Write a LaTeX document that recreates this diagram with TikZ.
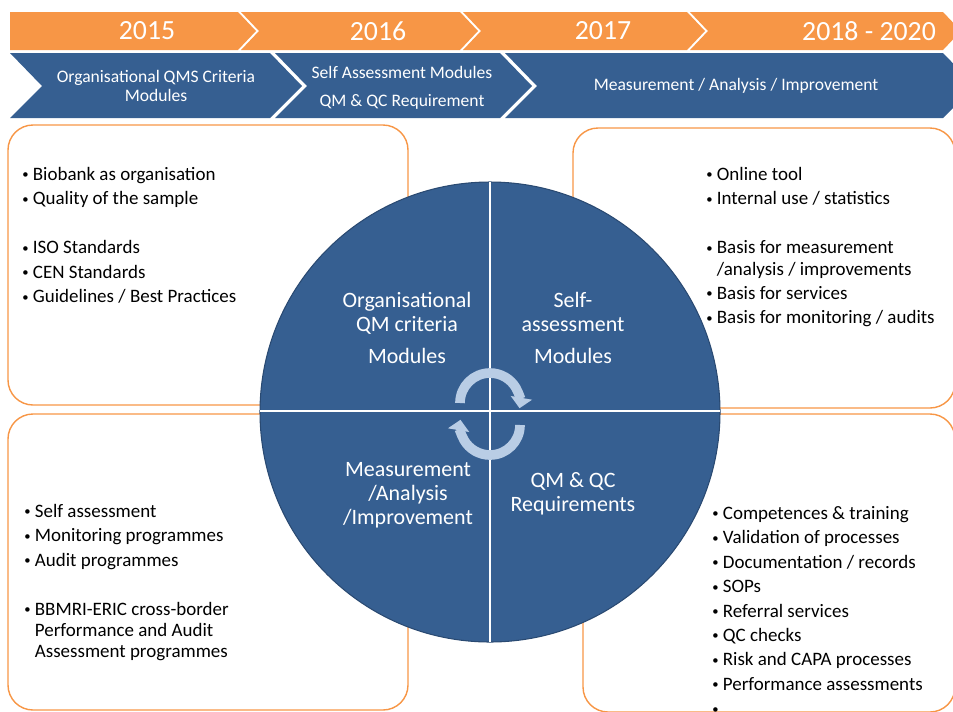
\documentclass[tikz,border=0pt]{standalone}
\usepackage{fontspec}
\setmainfont{Carlito}
\usepackage{xcolor}
\usetikzlibrary{positioning, arrows.meta}

\definecolor{qmorange}{RGB}{247,150,70}
\definecolor{qmblue}{RGB}{54,95,145}
\definecolor{qmdark}{RGB}{42,74,114}
\definecolor{qmarrow}{RGB}{185,205,229}

\newcommand{\bul}{\makebox[6pt][l]{\raisebox{0.9pt}{\fontsize{7.2}{7.2}\selectfont\textbullet}}}
\newcommand{\ind}{\hspace*{6pt}}

\tikzset{
  panel/.style={draw=qmorange, line width=0.8pt, rounded corners=0.5cm},
  yeartext/.style={text=white, font=\fontsize{15.8}{18}\selectfont},
  bandtext/.style={text=white, align=center, font=\fontsize{10}{11.3}\selectfont},
  quadtext/.style={text=white, align=center, font=\fontsize{12.5}{13.6}\selectfont},
  listtext/.style={align=left, anchor=north west, inner sep=0pt, font=\fontsize{10.8}{13.9}\selectfont},
  cycarrow/.style={draw=qmarrow, line width=5.5pt, -{Triangle[width=12pt,length=6pt]}}
}

\begin{document}
\begin{tikzpicture}[x=0.02cm, y=-0.02cm]
    \useasboundingbox (0,0) rectangle (953,711);
    % Draw year chevrons
    \fill[qmorange] (10,12) -- (238,12) -- (256,31) -- (238,50) -- (10,50) -- cycle;
    \fill[qmorange] (241,12) -- (460,12) -- (478,31) -- (460,50) -- (241,50) -- (259,31) -- cycle;
    \fill[qmorange] (463,12) -- (687,12) -- (705,31) -- (687,50) -- (463,50) -- (481,31) -- cycle;
    \fill[qmorange] (690,12) -- (943,12) -- (961,31) -- (943,50) -- (690,50) -- (708,31) -- cycle;
    \node[yeartext] (y15) at (147,31) {2015};
    \node[yeartext] (y16) at (378,31) {2016};
    \node[yeartext] (y17) at (603,31) {2017};
    \node[yeartext, anchor=east] (y18) at (942,31) {2018 - 2020};

    % Draw phase chevrons
    \fill[qmblue] (10,53) -- (270,53) -- (302,86) -- (270,118) -- (10,118) -- (42,86) -- cycle;
    \fill[qmblue] (275,53) -- (500,53) -- (532,86) -- (500,118) -- (275,118) -- (307,86) -- cycle;
    \fill[qmblue] (505,53) -- (943,53) -- (975,86) -- (943,118) -- (505,118) -- (537,86) -- cycle;
    \node[bandtext] (b15) at (156,86) {Organisational QMS Criteria\\Modules};
    \node[bandtext] (b16) at (402,88) {Self Assessment Modules\\[4.6pt]QM \& QC Requirement};
    \node[bandtext] (b17) at (736,86) {Measurement / Analysis / Improvement};

    % Draw the four panels
    \draw[panel] (8,125) rectangle (408,405);
    \draw[panel] (573,128) rectangle (955,408);
    \draw[panel] (8,414) rectangle (408,710);
    \draw[panel] (583,414) rectangle (955,712);

    % Draw the quartered circle
    \fill[qmblue, draw=qmdark, line width=0.6pt] (490,412) circle[radius=230];
    \draw[white, line width=1.6pt] (490,182) -- (490,642);
    \draw[white, line width=1.6pt] (260,411) -- (720,411);
    \draw[cycarrow] (460,403) arc[start angle=180, end angle=370, radius=30];
    \draw[cycarrow] (520,425) arc[start angle=0, end angle=190, radius=30];

    \node[quadtext] (qOrg) at (407,328) {Organisational\\QM criteria\\[5pt]Modules};
    \node[quadtext] (qSelf) at (573,328) {Self-\\assessment\\[5pt]Modules};
    \node[quadtext] (qMeas) at (408,495) {Measurement\\/Analysis\\/Improvement};
    \node[quadtext] (qReq) at (573,494) {QM \& QC\\Requirements};

    % Bullet lists
    \node[listtext] (lOrg) at (22,167) {\bul Biobank as organisation\\
        \bul Quality of the sample\\[13.9pt]
        \bul ISO Standards\\
        \bul CEN Standards\\
        \bul Guidelines / Best Practices};
    \node[listtext] (lSelf) at (706,167) {\bul Online tool\\
        \bul Internal use / statistics\\[13.9pt]
        \bul Basis for measurement\\[-1.8pt]
        \ind /analysis / improvements\\
        \bul Basis for services\\
        \bul Basis for monitoring / audits};
    \node[listtext] (lMeas) at (24,504) {\bul Self assessment\\
        \bul Monitoring programmes\\
        \bul Audit programmes\\[13.9pt]
        \bul BBMRI-ERIC cross-border\\[-1.8pt]
        \ind Performance and Audit\\[-1.8pt]
        \ind Assessment programmes};
    \node[listtext] (lReq) at (712,506) {\bul Competences \& training\\
        \bul Validation of processes\\
        \bul Documentation / records\\
        \bul SOPs\\
        \bul Referral services\\
        \bul QC checks\\
        \bul Risk and CAPA processes\\
        \bul Performance assessments\\
        \bul};
\end{tikzpicture}
\end{document}
